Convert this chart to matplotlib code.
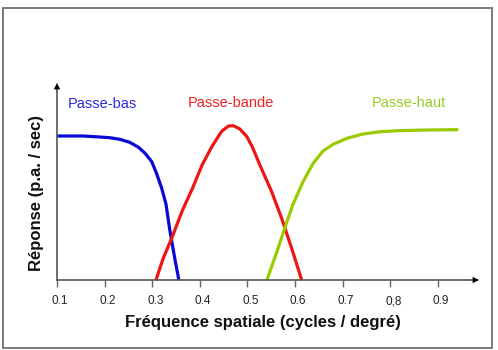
import matplotlib
matplotlib.use('Agg')
import matplotlib.pyplot as plt
from matplotlib.patches import Rectangle
from matplotlib.transforms import ScaledTranslation

plt.rcParams['font.family'] = ['Liberation Sans', 'DejaVu Sans']

# spatial frequency (cycles/deg) vs response (arbitrary units)
bas_x = [0.100, 0.155, 0.190, 0.211, 0.232, 0.253, 0.271, 0.285, 0.299,
         0.309, 0.320, 0.329, 0.337, 0.348, 0.356]
bas_y = [1.000, 1.000, 0.993, 0.988, 0.977, 0.956, 0.922, 0.880, 0.822,
         0.741, 0.637, 0.526, 0.347, 0.139, 0.0]

bande_x = [0.308, 0.323, 0.341, 0.363, 0.385, 0.405, 0.426, 0.446, 0.460, 0.470,
           0.484, 0.499, 0.511, 0.526, 0.551, 0.572, 0.593, 0.614]
bande_y = [0.0, 0.15, 0.29, 0.48, 0.64, 0.80, 0.93, 1.033, 1.069, 1.072,
           1.049, 0.995, 0.92, 0.80, 0.613, 0.428, 0.22, 0.0]

haut_x = [0.541, 0.562, 0.583, 0.596, 0.617, 0.638, 0.659, 0.680, 0.709,
          0.743, 0.779, 0.817, 0.884, 0.943]
haut_y = [0.0, 0.197, 0.405, 0.526, 0.683, 0.810, 0.896, 0.942, 0.984,
          1.014, 1.030, 1.037, 1.042, 1.044]

ticks = [0.1, 0.2, 0.3, 0.4, 0.5, 0.6, 0.7, 0.8, 0.9]
tick_labels = ['0.1', '0.2', '0.3', '0.4', '0.5', '0.6', '0.7', '0,8', '0.9']

W, H = 498, 350
fig = plt.figure(figsize=(W / 100, H / 100), dpi=100)

# grey frame around the whole picture
fig.patches.append(Rectangle((2.5 / W, 2.5 / H), 489.5 / W, 339.5 / H,
                             transform=fig.transFigure, fill=False,
                             edgecolor='#7a7a7a', linewidth=1.4))

ax = fig.add_axes([57 / W, 70 / H, 422 / W, 197 / H])
ax.set_xlim(0.1, 0.1 + 422 / 476)
ax.set_ylim(0, 197 / 144)

line_kw = dict(lw=2.3, solid_joinstyle='round', solid_capstyle='butt', clip_on=False)
ax.plot(bas_x, bas_y, color='#0808d8', **line_kw)
ax.plot(bande_x, bande_y, color='#ee1515', **line_kw)
ax.plot(haut_x, haut_y, color='#99cc00', **line_kw)

for s in ax.spines.values():
    s.set_visible(False)

# axes drawn as arrows with black heads
ax.plot([0, 0.985], [0, 0], color='#555555', lw=1.2, transform=ax.transAxes, clip_on=False)
ax.plot([0, 0], [0, 0.97], color='#555555', lw=1.2, transform=ax.transAxes, clip_on=False)
head = dict(arrowstyle='-|>', color='black', lw=0.1, mutation_scale=11, shrinkA=0, shrinkB=0)
ax.annotate('', xy=(1, 0), xytext=(0.97, 0), xycoords='axes fraction', arrowprops=head)
ax.annotate('', xy=(0, 1), xytext=(0, 0.95), xycoords='axes fraction', arrowprops=head)

ax.set_yticks([])
ax.set_xticks(ticks)
ax.set_xticklabels(tick_labels, fontsize=8.5, color='#222222')
ax.tick_params(axis='x', direction='out', length=5, width=1, color='#666666', pad=6)
for lab in ax.get_xticklabels():
    lab.set_verticalalignment('baseline')
    lab.set_transform(lab.get_transform() + ScaledTranslation(3 / 100, -9 / 100, fig.dpi_scale_trans))

fig.text(263 / W, 1 - 322 / H, 'Fréquence spatiale (cycles / degré)',
         ha='center', va='center', fontsize=12, fontweight='bold', color='#111111')
fig.text(37 / W, 1 - 193 / H, 'Réponse (p.a. / sec)', rotation=90,
         ha='center', va='center', fontsize=12, fontweight='bold', color='#111111')

fig.text(68 / W, 1 - 104 / H, 'Passe-bas', ha='left', va='center', fontsize=10.5, color='#2b2bdc')
fig.text(188 / W, 1 - 103 / H, 'Passe-bande', ha='left', va='center', fontsize=10.5, color='#ee2222')
fig.text(372 / W, 1 - 103 / H, 'Passe-haut', ha='left', va='center', fontsize=10.5, color='#99cc22')

fig.savefig('out.png', dpi=100, facecolor='white')
